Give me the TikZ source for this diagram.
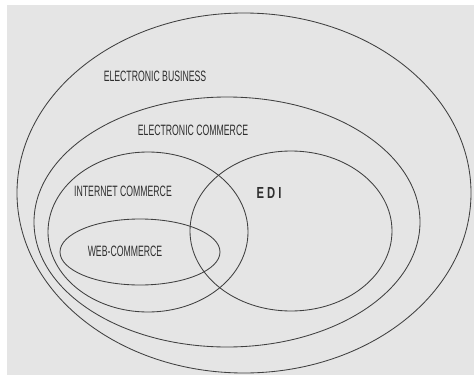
\documentclass[tikz,border=0pt]{standalone}
\usepackage{fontspec}
\setmainfont{Liberation Sans}
\newcommand{\narrowtext}[1]{\scalebox{0.58}[1]{#1}}
\begin{document}
\begin{tikzpicture}[x=1pt,y=-1pt,
  venn/.style={draw=black!75,line width=0.85pt},
  lab/.style={inner sep=0pt,text=black!82,font=\fontsize{15}{15}\selectfont}]
\useasboundingbox (0,0) rectangle (474,375);
\fill[white] (0,0) rectangle (474,375);
\fill[black!10] (7,5) rectangle (474,375);
% nested ellipses of the business hierarchy
\draw[venn] (244,193) ellipse [x radius=227,y radius=180];
\draw[venn] (227,222) ellipse [x radius=193,y radius=125];
\draw[venn] (148,232) ellipse [x radius=100,y radius=80];
\draw[venn] (291,231) ellipse [x radius=101,y radius=80];
\draw[venn] (140,252) ellipse [x radius=80,y radius=33];
% labels
\node[lab] (eb) at (155,76) {\narrowtext{ELECTRONIC BUSINESS}};
\node[lab] (ec) at (193,130) {\narrowtext{ELECTRONIC COMMERCE}};
\node[lab] (ic) at (123,191) {\narrowtext{INTERNET COMMERCE}};
\node[lab] (wc) at (125,251) {\narrowtext{WEB-COMMERCE}};
\node[lab,font=\fontsize{16}{16}\selectfont\bfseries] (edi) at (269,193) {\scalebox{0.7}[1]{E D I}};
\end{tikzpicture}
\end{document}
